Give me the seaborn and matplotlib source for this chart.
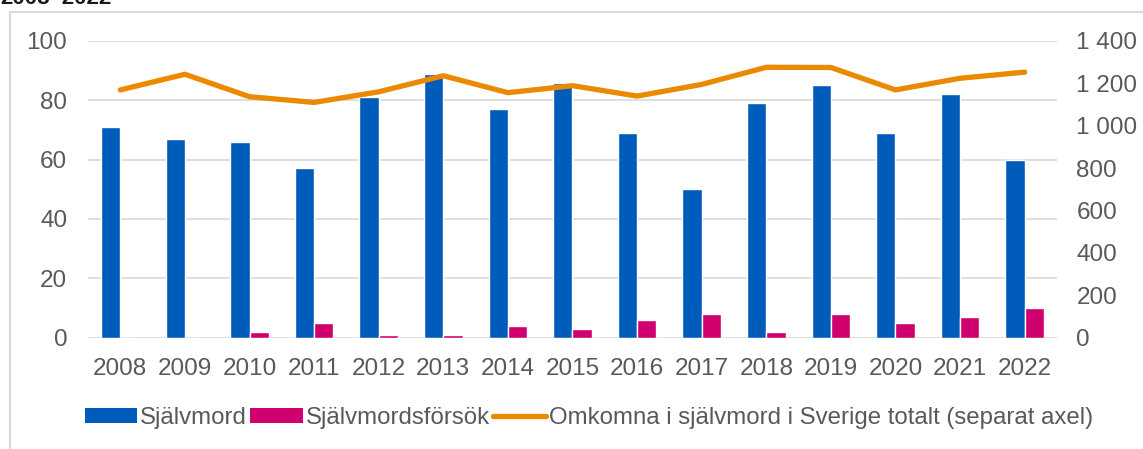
import numpy as np
import pandas as pd
import matplotlib
matplotlib.use('Agg')
import matplotlib.pyplot as plt
from matplotlib.patches import Patch
from matplotlib.lines import Line2D
from matplotlib.ticker import FuncFormatter
import seaborn as sns

# DATA

years = ['2008', '2009', '2010', '2011', '2012', '2013', '2014', '2015',
         '2016', '2017', '2018', '2019', '2020', '2021', '2022']
sjalvmord = [71, 67, 66, 57, 81, 89, 77, 86, 69, 50, 79, 85, 69, 82, 60]
forsok = [0, 0, 2, 5, 1, 1, 4, 3, 6, 8, 2, 8, 5, 7, 10]
totalt_sverige = [1169, 1243, 1137, 1110, 1160, 1236, 1156, 1189,
                  1140, 1195, 1276, 1275, 1169, 1224, 1253]

series_names = ['Självmord', 'Självmordsförsök']
line_name = 'Omkomna i självmord i Sverige totalt (separat axel)'
title_text = '2008–2022'

BLUE = '#005CBB'
PINK = '#D0006F'
ORANGE = '#EB8900'
GRID = '#D9D9D9'
TEXT = '#595959'

df = pd.DataFrame({
    'year': years * 2,
    'value': sjalvmord + forsok,
    'series': [series_names[0]] * len(years) + [series_names[1]] * len(years),
})

sns.set_theme(style='white')
plt.rcParams['font.family'] = ['Liberation Sans', 'DejaVu Sans']

fig = plt.figure(figsize=(11.43, 4.49), dpi=100)
ax = fig.add_axes([88 / 1143, 1 - 337.5 / 449, (1057 - 88) / 1143, (337.5 - 41) / 449])

sns.barplot(data=df, x='year', y='value', hue='series', order=years,
            hue_order=series_names, palette=[BLUE, PINK], width=0.6, gap=0,
            saturation=1, legend=False, ax=ax)

ax.set_ylim(0, 100)
ax.set_yticks(range(0, 101, 20))
ax.yaxis.grid(True, color=GRID, linewidth=1.2)
ax.set_axisbelow(True)
ax.set_xlabel('')
ax.set_ylabel('')
ax.tick_params(axis='both', length=0, labelsize=17.5, labelcolor=TEXT)
ax.tick_params(axis='x', pad=15)
ax.tick_params(axis='y', pad=15)
for s in ax.spines.values():
    s.set_visible(False)

ax2 = ax.twinx()
sns.lineplot(x=np.arange(len(years)), y=totalt_sverige, color=ORANGE,
             linewidth=3.8, ax=ax2)
ax2.set_ylim(0, 1400)
ax2.set_yticks(range(0, 1401, 200))
ax2.yaxis.set_major_formatter(FuncFormatter(lambda v, p: f'{int(v):,}'.replace(',', ' ')))
ax2.tick_params(axis='y', length=0, labelsize=17.5, labelcolor=TEXT, pad=14)
ax2.grid(False)
for s in ax2.spines.values():
    s.set_visible(False)
ax.set_xlim(-0.5, len(years) - 0.5)

handles = [Patch(facecolor=BLUE, edgecolor='none'),
           Patch(facecolor=PINK, edgecolor='none'),
           Line2D([0], [0], color=ORANGE, linewidth=3.8)]
fig.legend(handles, series_names + [line_name], loc='center',
           bbox_to_anchor=(0.515, 1 - 418 / 449), ncol=3, frameon=False,
           fontsize=17.3, labelcolor=TEXT, handlelength=2.2, handleheight=0.55,
           handletextpad=0.1, columnspacing=0.15)

# frame of the original chart box
fig.add_artist(Line2D([10 / 1143, 10 / 1143], [0, 1 - 12 / 449], color=GRID,
                      linewidth=1.5, transform=fig.transFigure))
fig.add_artist(Line2D([10 / 1143, 1], [1 - 12 / 449, 1 - 12 / 449], color=GRID,
                      linewidth=1.5, transform=fig.transFigure))

fig.text(0.0, 1 - 3.5 / 449, title_text, fontsize=16, fontweight='bold',
         color='#1A1A1A', ha='left', va='baseline')

fig.savefig('out.png', dpi=100)
